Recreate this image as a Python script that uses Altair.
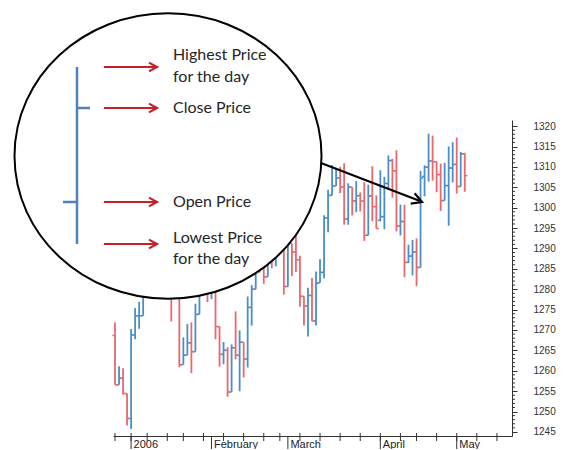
import altair as alt
import pandas as pd
import numpy as np

# ---- data (S&P-style daily bars, late Dec 2005 .. early May 2006) ----
dates = [
    "2005-12-27", "2005-12-28", "2005-12-29", "2005-12-30",
    "2006-01-03", "2006-01-04", "2006-01-05", "2006-01-06", "2006-01-09", "2006-01-10",
    "2006-01-11", "2006-01-12", "2006-01-13", "2006-01-17", "2006-01-18", "2006-01-19",
    "2006-01-20", "2006-01-23", "2006-01-24", "2006-01-25", "2006-01-26", "2006-01-27",
    "2006-01-30", "2006-01-31",
    "2006-02-01", "2006-02-02", "2006-02-03", "2006-02-06", "2006-02-07", "2006-02-08",
    "2006-02-09", "2006-02-10", "2006-02-13", "2006-02-14", "2006-02-15", "2006-02-16",
    "2006-02-17", "2006-02-21", "2006-02-22", "2006-02-23", "2006-02-24", "2006-02-27",
    "2006-02-28",
    "2006-03-01", "2006-03-02", "2006-03-03", "2006-03-06", "2006-03-07", "2006-03-08",
    "2006-03-09", "2006-03-10", "2006-03-13", "2006-03-14", "2006-03-15", "2006-03-16",
    "2006-03-17", "2006-03-20", "2006-03-21", "2006-03-22", "2006-03-23", "2006-03-24",
    "2006-03-27", "2006-03-28", "2006-03-29", "2006-03-30", "2006-03-31",
    "2006-04-03", "2006-04-04", "2006-04-05", "2006-04-06", "2006-04-07", "2006-04-10",
    "2006-04-11", "2006-04-12", "2006-04-13", "2006-04-17", "2006-04-18", "2006-04-19",
    "2006-04-20", "2006-04-21", "2006-04-24", "2006-04-25", "2006-04-26", "2006-04-27",
    "2006-04-28",
    "2006-05-01", "2006-05-02", "2006-05-03",
]
open_ = [
    1268.66, 1256.54, 1258.17, 1254.42,
    1248.29, 1268.80, 1273.46, 1273.48, 1285.45, 1290.15, 1289.72, 1294.18, 1286.06, 1287.61,
    1282.93, 1277.93, 1285.04, 1261.49, 1263.82, 1266.86, 1264.68, 1273.83, 1283.72, 1285.20,
    1280.08, 1282.46, 1270.84, 1264.03, 1265.02, 1254.78, 1265.65, 1263.82, 1266.99, 1262.86,
    1275.53, 1280.00, 1289.38, 1287.24, 1283.03, 1292.67, 1287.79, 1289.43, 1294.12,
    1280.66, 1291.24, 1289.14, 1287.23, 1278.26, 1275.88, 1278.47, 1272.23, 1281.58, 1284.13,
    1297.48, 1303.02, 1305.33, 1307.25, 1305.08, 1297.23, 1305.04, 1301.67, 1302.95, 1301.61,
    1293.23, 1302.89, 1300.25,
    1296.90, 1297.81, 1305.93, 1311.56, 1309.04, 1295.51, 1296.60, 1286.57, 1288.12, 1289.12,
    1285.33, 1307.65, 1309.93, 1311.46, 1311.28, 1308.11, 1301.74, 1305.41, 1309.72,
    1310.61, 1305.19, 1313.21,
]
high = [
    1271.83, 1261.10, 1260.61, 1254.42,
    1270.22, 1275.37, 1276.91, 1286.09, 1290.78, 1290.15, 1294.90, 1294.18, 1288.96, 1287.61,
    1282.93, 1287.79, 1285.04, 1268.19, 1271.47, 1271.87, 1276.44, 1286.38, 1287.94, 1285.20,
    1283.33, 1282.46, 1270.87, 1267.04, 1265.78, 1266.47, 1274.56, 1269.89, 1266.99, 1278.21,
    1281.00, 1289.39, 1289.47, 1291.92, 1294.17, 1293.84, 1292.11, 1297.57, 1294.12,
    1291.80, 1291.24, 1297.33, 1288.23, 1278.26, 1280.33, 1282.74, 1284.37, 1287.37, 1298.14,
    1304.40, 1310.45, 1309.79, 1310.00, 1310.88, 1305.97, 1305.04, 1306.53, 1303.74, 1306.24,
    1305.60, 1310.15, 1303.00,
    1309.19, 1307.55, 1312.81, 1311.99, 1314.07, 1300.74, 1300.71, 1290.93, 1292.09, 1292.45,
    1309.02, 1310.39, 1318.16, 1317.67, 1311.28, 1310.79, 1310.97, 1315.00, 1316.04,
    1317.21, 1313.66, 1313.47,
]
low = [
    1256.54, 1256.54, 1254.18, 1246.59,
    1245.74, 1267.74, 1270.30, 1273.48, 1284.82, 1283.76, 1288.12, 1285.04, 1282.78, 1278.61,
    1272.08, 1277.93, 1260.92, 1261.49, 1263.82, 1259.42, 1264.68, 1273.83, 1283.51, 1276.85,
    1277.57, 1267.72, 1261.02, 1261.62, 1253.61, 1254.78, 1262.80, 1254.98, 1258.34, 1260.80,
    1271.06, 1280.00, 1284.07, 1281.33, 1283.03, 1285.14, 1285.62, 1289.43, 1278.66,
    1280.66, 1283.21, 1284.20, 1275.67, 1271.11, 1268.42, 1272.23, 1271.11, 1281.58, 1282.67,
    1293.97, 1303.02, 1305.32, 1303.59, 1295.82, 1295.81, 1298.11, 1298.89, 1299.09, 1291.84,
    1293.23, 1296.72, 1294.87,
    1296.65, 1294.71, 1304.82, 1302.44, 1294.18, 1293.17, 1282.96, 1286.45, 1283.37, 1280.74,
    1285.33, 1302.79, 1306.38, 1306.59, 1303.79, 1299.17, 1301.74, 1295.57, 1306.16,
    1303.46, 1305.19, 1303.92,
]
close = [
    1256.54, 1258.17, 1254.42, 1248.29,
    1268.80, 1273.46, 1273.48, 1285.45, 1290.15, 1289.69, 1294.18, 1286.06, 1287.61, 1282.93,
    1277.93, 1285.04, 1261.49, 1263.82, 1266.86, 1264.68, 1273.83, 1283.72, 1285.19, 1280.08,
    1282.46, 1270.84, 1264.03, 1265.02, 1254.78, 1265.65, 1263.78, 1266.99, 1262.86, 1275.53,
    1280.00, 1289.38, 1287.24, 1283.03, 1292.67, 1287.79, 1289.43, 1294.12, 1280.66,
    1291.24, 1289.14, 1287.23, 1278.26, 1275.88, 1278.47, 1272.23, 1281.42, 1284.13, 1297.48,
    1303.02, 1305.33, 1307.25, 1305.08, 1297.23, 1305.04, 1301.67, 1302.95, 1301.61, 1293.23,
    1302.89, 1300.25, 1294.87,
    1297.81, 1305.93, 1311.56, 1309.04, 1295.50, 1296.62, 1286.57, 1288.12, 1289.12, 1285.33,
    1307.28, 1309.93, 1311.46, 1311.28, 1308.11, 1301.74, 1305.41, 1309.72, 1310.61,
    1305.19, 1313.21, 1307.85,
]

month_idx = [4, 24, 43, 66, 85]
month_names = ["2006", "February", "March", "April", "May"]
week_idx = [0, 4, 8, 13, 17, 22, 27, 32, 37, 41, 46, 51, 56, 61, 66, 71, 75, 80, 85, 90, 95]
price_ticks = list(range(1245, 1321, 5))
minor_ticks = [v for v in range(1245, 1321) if v % 5]

note_labels = ["Highest Price", "for the day", "Close Price", "Open Price",
               "Lowest Price", "for the day"]

# ---- styles ----
BLUE = "#4a8fc8"
RED = "#ec676c"
AXIS = "#333333"
NOTE_BLUE = "#4f81bd"
NOTE_RED = "#c42127"

W, H = 399, 316

df = pd.DataFrame({"date": dates, "open": open_, "high": high, "low": low, "close": close})
df["idx"] = np.arange(len(df))
df["dir"] = np.where(df["close"] >= df["open"], "up", "down")

xscale = alt.Scale(domain=[-0.5, 98.75], nice=False, zero=False)
yscale = alt.Scale(domain=[1244.0, 1321.5], nice=False, zero=False)
color = alt.Color("dir:N", scale=alt.Scale(domain=["up", "down"], range=[BLUE, RED]), legend=None)

label_expr = " : ".join(
    f"datum.value == {i} ? '{n}'" for i, n in zip(month_idx, month_names)
) + " : ''"

xaxis = alt.Axis(values=month_idx, labelExpr=label_expr, ticks=False, title=None,
                 labelAlign="left", labelBaseline="top", labelPadding=2, labelOffset=2,
                 labelFlush=False, labelOverlap=False, grid=False, domainColor=AXIS,
                 labelFont="Liberation Sans", labelFontSize=11, labelColor="#222222")
yaxis = alt.Axis(orient="right", values=price_ticks, format="d", tickSize=5, labelPadding=16,
                 labelFontSize=10, labelFont="Liberation Sans", labelColor=AXIS,
                 domainColor=AXIS, tickColor=AXIS, grid=False, title=None,
                 labelFlush=False, labelOverlap=False)


def X(field):
    return alt.X(field, scale=xscale, axis=xaxis, title=None)


def Y(field):
    return alt.Y(field, scale=yscale, axis=yaxis, title=None)


base = alt.Chart(df)
hl = base.mark_rule(strokeWidth=1.8).encode(
    x=X("idx:Q"), y=Y("low:Q"), y2="high:Q", color=color,
)
op = base.transform_calculate(xo="datum.idx - 0.65").mark_rule(strokeWidth=1.5).encode(
    x=X("xo:Q"), x2="idx:Q", y=Y("open:Q"), color=color,
)
cl = base.transform_calculate(xc="datum.idx + 0.65").mark_rule(strokeWidth=1.5).encode(
    x=X("idx:Q"), x2="xc:Q", y=Y("close:Q"), color=color,
)

minor = alt.Chart(pd.DataFrame({"v": minor_ticks})).mark_rule(color=AXIS, strokeWidth=1).encode(
    x=alt.value(W), x2=alt.value(W + 3), y=Y("v:Q"))
wk = alt.Chart(pd.DataFrame({"idx": week_idx})).mark_rule(color=AXIS, strokeWidth=1).encode(
    x=X("idx:Q"), y=alt.value(H - 3), y2=alt.value(H + 5))
mo = alt.Chart(pd.DataFrame({"idx": month_idx})).mark_rule(color=AXIS, strokeWidth=1).encode(
    x=X("idx:Q"), y=alt.value(H), y2=alt.value(H + 16))

one = pd.DataFrame({"k": [0]})

ELLIPSE = ("M 1 0 C 1 0.5137 0.5523 0.93 0 0.93 C -0.5523 0.93 -1 0.5137 -1 0 "
           "C -1 -0.5137 -0.5523 -0.93 0 -0.93 C 0.5523 -0.93 1 -0.5137 1 0 Z")
lens = alt.Chart(one).mark_point(shape=ELLIPSE, size=307 ** 2, filled=True, fill="white",
                                 stroke="black", strokeWidth=2, opacity=1).encode(
    x=alt.value(55), y=alt.value(36))

HEAD = "M -1 -0.55 L 0 0 L -1 0.55"
notes = []
# sample OHLC bar inside the lens
notes.append(alt.Chart(one).mark_rule(color=NOTE_BLUE, strokeWidth=2.5).encode(
    x=alt.value(-36), y=alt.value(-53), y2=alt.value(124)))
notes.append(alt.Chart(one).mark_rule(color=NOTE_BLUE, strokeWidth=2.5).encode(
    x=alt.value(-36), x2=alt.value(-23), y=alt.value(-12)))
notes.append(alt.Chart(one).mark_rule(color=NOTE_BLUE, strokeWidth=2.5).encode(
    x=alt.value(-50), x2=alt.value(-36), y=alt.value(82)))
# red arrows
for ay in [-53, -12, 82, 124]:
    notes.append(alt.Chart(one).mark_rule(color=NOTE_RED, strokeWidth=2).encode(
        x=alt.value(-9), x2=alt.value(42), y=alt.value(ay)))
    notes.append(alt.Chart(one).mark_point(shape=HEAD, size=256, filled=False, stroke=NOTE_RED,
                                           strokeWidth=2.2, opacity=1).encode(
        x=alt.value(44), y=alt.value(ay)))
# texts
for txt, ty in zip(note_labels, [-65, -43, -12, 82, 118, 139]):
    notes.append(alt.Chart(one).mark_text(text=txt, align="left", baseline="middle",
                                          font="Lato", fontSize=16, color="#262626").encode(
        x=alt.value(60), y=alt.value(ty)))
# black pointer arrow
notes.append(alt.Chart(one).mark_rule(color="black", strokeWidth=2).encode(
    x=alt.value(208), x2=alt.value(307), y=alt.value(43), y2=alt.value(81)))
notes.append(alt.Chart(one).mark_point(shape=HEAD, size=400, filled=False, stroke="black",
                                       strokeWidth=2.2, opacity=1, angle=21).encode(
    x=alt.value(309), y=alt.value(82)))

chart = alt.layer(hl, op, cl, minor, wk, mo, lens, *notes).properties(
    width=W, height=H,
    autosize=alt.AutoSizeParams(type="none"),
    padding={"left": 105, "top": 112, "right": 45, "bottom": 13},
).configure_view(stroke=None)

chart.save("out.html", embed_options={"renderer": "svg", "actions": False})
